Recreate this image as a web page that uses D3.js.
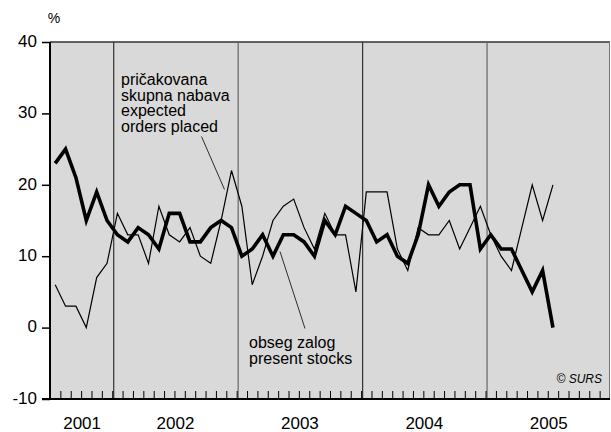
<!DOCTYPE html>
<html>
<head>
<meta charset="utf-8">
<script src="https://cdn.jsdelivr.net/npm/d3@7"></script>
<style>
  html, body { margin: 0; padding: 0; background: #fff; }
  svg { display: block; }
  text { font-family: "Liberation Sans", Arial, Helvetica, sans-serif; fill: #000; }
</style>
</head>
<body>
<svg id="chart" width="611" height="432"></svg>
<script>
// Monthly data, July 2001 .. July 2005
const startMonth = "2001-07";
const presentStocks = [
  23, 25, 21, 15, 19, 15,
  13, 12, 14, 13, 11, 16, 16, 12, 12, 14, 15, 14,
  10, 11, 13, 10, 13, 13, 12, 10, 15, 13, 17, 16,
  15, 12, 13, 10, 9, 13, 20, 17, 19, 20, 20, 11,
  13, 11, 11, 8, 5, 8, 0
];
const expectedOrders = [
  6, 3, 3, 0, 7, 9,
  16, 13, 13, 9, 17, 13, 12, 14, 10, 9, 15, 22,
  17, 6, 10, 15, 17, 18, 14, 11, 16, 13, 13, 5,
  19, 19, 19, 11, 8, 14, 13, 13, 15, 11, 14, 17,
  13, 10, 8, 14, 20, 15, 20
];
const years = ["2001", "2002", "2003", "2004", "2005"];
const yearFirstMonth = [-0.5, 5.5, 17.5, 29.5, 41.5];   // month index where each year begins (axis starts mid-2001)
const yearLastMonth  = [5.5, 17.5, 29.5, 41.5, 53.5];
const yTicks = [-10, 0, 10, 20, 30, 40];
const yTickLabels = ["-10", "0", "10", "20", "30", "40"];
const labelOrders = ["pričakovana", "skupna nabava", "expected", "orders placed"];
const labelStocks = ["obseg zalog", "present stocks"];
const credit = "© SURS";

const svg = d3.select("#chart");
const L = 50, R = 610, T = 42, B = 399;

const x = d3.scaleLinear().domain([-0.5, 53.5]).range([L, R]);
const y = d3.scaleLinear().domain([-10, 40]).range([B, T]);

// background
svg.append("rect").attr("x", L).attr("y", T).attr("width", R - L).attr("height", B - T)
  .attr("fill", "#d9d9d9");

// top border & right edge
svg.append("line").attr("x1", L).attr("x2", R).attr("y1", T).attr("y2", T)
  .attr("stroke", "#333").attr("stroke-width", 1.5);
svg.append("line").attr("x1", R - 0.5).attr("x2", R - 0.5).attr("y1", T).attr("y2", B)
  .attr("stroke", "#777").attr("stroke-width", 1);

// year dividers
svg.append("g").selectAll("line").data(yearFirstMonth.slice(1)).join("line")
  .attr("x1", d => x(d) + 1.5).attr("x2", d => x(d) + 1.5)
  .attr("y1", T).attr("y2", B)
  .attr("stroke", (d, i) => i % 2 ? "#666" : "#333").attr("stroke-width", 1.2);

// monthly ticks on bottom (pointing up)
const monthTicks = d3.range(0.5, 53, 1);
const xAxis = d3.axisBottom(x).tickValues(monthTicks).tickSize(-8).tickFormat("");
svg.append("g").attr("transform", `translate(0,${B})`).call(xAxis)
  .call(g => g.select(".domain").remove())
  .call(g => g.selectAll(".tick line").attr("stroke", "#000").attr("stroke-width", 1));

// y axis
const yAxis = d3.axisLeft(y).tickValues(yTicks).tickSize(8).tickPadding(5)
  .tickFormat((d, i) => yTickLabels[i]);
svg.append("g").attr("transform", `translate(${L},0)`).call(yAxis)
  .call(g => g.select(".domain").remove())
  .call(g => g.selectAll(".tick line").attr("stroke", "#000").attr("stroke-width", 1.5))
  .call(g => g.selectAll(".tick text").attr("font-size", 17).attr("dy", "0.25em")
    .attr("font-family", "Liberation Sans, Arial, sans-serif").attr("fill", "#000"));

// axis lines
svg.append("line").attr("x1", L).attr("x2", L).attr("y1", T).attr("y2", B + 1)
  .attr("stroke", "#000").attr("stroke-width", 2);
svg.append("line").attr("x1", L - 8).attr("x2", R).attr("y1", B).attr("y2", B)
  .attr("stroke", "#000").attr("stroke-width", 2);

// % unit
svg.append("text").attr("x", 54).attr("y", 23).attr("text-anchor", "middle")
  .attr("font-size", 14).text("%");

// year labels
svg.append("g").selectAll("text").data(years).join("text")
  .attr("x", (d, i) => x((Math.max(yearFirstMonth[i], -0.5) + yearLastMonth[i]) / 2) + 1)
  .attr("y", 429).attr("text-anchor", "middle").attr("font-size", 17).text(d => d);

// lines
const line = d3.line().x((d, i) => x(i)).y(d => y(d)).curve(d3.curveLinear);
svg.append("path").datum(expectedOrders).attr("d", line)
  .attr("fill", "none").attr("stroke", "#000").attr("stroke-width", 1.2).attr("stroke-linejoin", "miter");
svg.append("path").datum(presentStocks).attr("d", line)
  .attr("fill", "none").attr("stroke", "#000").attr("stroke-width", 3.6).attr("stroke-linejoin", "miter");

// annotation: expected orders
svg.append("g").selectAll("text").data(labelOrders).join("text")
  .attr("x", 121).attr("y", (d, i) => 85 + i * 15.5).attr("font-size", 16).text(d => d);
svg.append("line").attr("x1", 201.5).attr("y1", 136.5).attr("x2", 224.5).attr("y2", 189.5)
  .attr("stroke", "#000").attr("stroke-width", 0.8);

// annotation: present stocks
svg.append("g").selectAll("text").data(labelStocks).join("text")
  .attr("x", 249).attr("y", (d, i) => 348 + i * 15.5).attr("font-size", 16).text(d => d);
svg.append("line").attr("x1", 280).attr("y1", 251.5).attr("x2", 305).attr("y2", 328.5)
  .attr("stroke", "#000").attr("stroke-width", 0.8);

// credit
svg.append("text").attr("x", 602).attr("y", 383).attr("text-anchor", "end")
  .attr("font-size", 12).attr("font-style", "italic").text(credit);
</script>
</body>
</html>
